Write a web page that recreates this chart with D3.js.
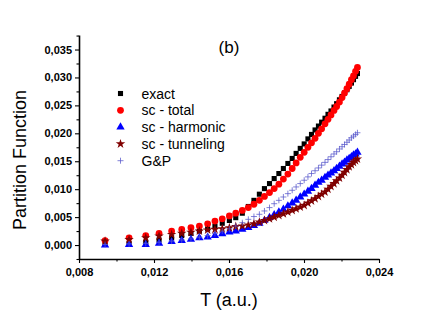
<!DOCTYPE html>
<html><head><meta charset="utf-8">
<script src="https://cdn.jsdelivr.net/npm/d3@7"></script>
<style>body{margin:0;background:#fff}svg{display:block}</style>
</head><body><div id="c"></div>
<script>
const temps = [0.00939,0.01067,0.01156,0.01227,0.01294,0.01348,0.01397,0.01442,0.01486,0.01525,0.01564,0.01602,0.01636,0.01671,0.01703,0.01733,0.01762,0.01789,0.01816,0.01841,0.01866,0.01890,0.01914,0.01937,0.01958,0.01980,0.02001,0.02021,0.02040,0.02059,0.02077,0.02094,0.02112,0.02128,0.02144,0.02160,0.02174,0.02189,0.02203,0.02216,0.02229,0.02241,0.02253,0.02264,0.02275,0.02285];
const exact = [0.0002,0.0003,0.0005,0.0009,0.0013,0.0017,0.0021,0.0025,0.0029,0.0034,0.0039,0.0044,0.0049,0.0057,0.0069,0.0080,0.0091,0.0101,0.0110,0.0119,0.0128,0.0137,0.0146,0.0155,0.0164,0.0173,0.0181,0.0190,0.0198,0.0206,0.0213,0.0220,0.0227,0.0234,0.0240,0.0247,0.0253,0.0260,0.0266,0.0272,0.0278,0.0284,0.0290,0.0296,0.0302,0.0307];
const scTotal = [0.0008,0.0013,0.0017,0.0021,0.0025,0.0028,0.0031,0.0034,0.0038,0.0043,0.0047,0.0052,0.0057,0.0062,0.0067,0.0073,0.0080,0.0087,0.0094,0.0101,0.0109,0.0118,0.0127,0.0137,0.0147,0.0157,0.0166,0.0175,0.0183,0.0191,0.0200,0.0208,0.0217,0.0225,0.0233,0.0241,0.0248,0.0256,0.0264,0.0272,0.0280,0.0288,0.0296,0.0303,0.0311,0.0318];
const scHarmonic = [0.0000,0.0001,0.0001,0.0003,0.0006,0.0008,0.0010,0.0013,0.0014,0.0017,0.0020,0.0023,0.0025,0.0028,0.0031,0.0035,0.0039,0.0044,0.0049,0.0054,0.0059,0.0064,0.0070,0.0075,0.0080,0.0086,0.0091,0.0096,0.0101,0.0107,0.0112,0.0116,0.0121,0.0125,0.0129,0.0133,0.0137,0.0141,0.0145,0.0148,0.0152,0.0155,0.0158,0.0161,0.0163,0.0166];
const scTunneling = [0.0007,0.0010,0.0013,0.0016,0.0019,0.0021,0.0023,0.0025,0.0027,0.0028,0.0029,0.0031,0.0033,0.0034,0.0036,0.0038,0.0041,0.0044,0.0047,0.0050,0.0053,0.0056,0.0059,0.0062,0.0065,0.0068,0.0071,0.0075,0.0079,0.0083,0.0087,0.0091,0.0095,0.0100,0.0105,0.0110,0.0115,0.0120,0.0125,0.0130,0.0135,0.0140,0.0144,0.0148,0.0151,0.0154];
const gp = [0.0001,0.0002,0.0003,0.0005,0.0007,0.0009,0.0011,0.0014,0.0017,0.0021,0.0025,0.0029,0.0034,0.0040,0.0046,0.0051,0.0055,0.0061,0.0067,0.0074,0.0080,0.0086,0.0092,0.0098,0.0104,0.0110,0.0116,0.0122,0.0128,0.0133,0.0138,0.0143,0.0148,0.0153,0.0158,0.0163,0.0167,0.0172,0.0176,0.0180,0.0184,0.0188,0.0192,0.0195,0.0198,0.0201];
const seriesNames = ["exact","sc - total","sc - harmonic","sc - tunneling","G&P"];
const xTicks = [0.008,0.012,0.016,0.020,0.024];
const xMinor = [0.010,0.014,0.018,0.022];
const yTicks = [0.000,0.005,0.010,0.015,0.020,0.025,0.030,0.035];
const yMinor = [-0.0025,0.0025,0.0075,0.0125,0.0175,0.0225,0.0275,0.0325,0.0375];

const W=440,H=311;
const svg=d3.select("#c").append("svg").attr("width",W).attr("height",H);
svg.append("rect").attr("width",W).attr("height",H).attr("fill","#fff");
const x=d3.scaleLinear().domain([0.008,0.024]).range([79,379]);
const y=d3.scaleLinear().domain([-0.0025,0.0376]).range([259,35]);
const fmt=d=>d3.format(".3f")(d).replace(".",",");
const font="'Liberation Sans', Arial, sans-serif";

const styles=[
 {sym:d3.symbolSquare,size:26,fill:"#000",stroke:"none"},
 {sym:d3.symbolCircle,size:36,fill:"#ff0000",stroke:"none"},
 {sym:d3.symbolTriangle,size:30,fill:"#0000ff",stroke:"none"},
 {sym:d3.symbolStar,size:28,fill:"#800000",stroke:"none"},
 {sym:d3.symbolCross,size:0,fill:"none",stroke:"#5a5acc"}
];
const data=[exact,scTotal,scHarmonic,scTunneling,gp];

function drawMarker(g,i){
  const s=styles[i];
  if(i===4){
    g.append("path").attr("d","M-3,0H3M0,-3V3").attr("stroke",s.stroke).attr("stroke-width",0.9).attr("fill","none").attr("opacity",0.85);
  } else {
    g.append("path").attr("d",d3.symbol().type(s.sym).size(s.size)()).attr("fill",s.fill);
  }
}

// axes
const ax=svg.append("g").attr("transform","translate(0,259)");
ax.call(d3.axisBottom(x).tickValues(xTicks).tickSize(4).tickSizeOuter(0).tickPadding(3).tickFormat(fmt));
const axm=svg.append("g").attr("transform","translate(0,259)");
axm.call(d3.axisBottom(x).tickValues(xMinor).tickSize(2.5).tickSizeOuter(0).tickFormat(""));
axm.select(".domain").remove();
const ay=svg.append("g").attr("transform","translate(79,0)");
ay.call(d3.axisLeft(y).tickValues(yTicks).tickSize(4).tickSizeOuter(0).tickPadding(3).tickFormat(fmt));
const aym=svg.append("g").attr("transform","translate(79,0)");
aym.call(d3.axisLeft(y).tickValues(yMinor).tickSize(2.5).tickSizeOuter(0).tickFormat(""));
aym.select(".domain").remove();
svg.selectAll(".domain").attr("stroke","#000").attr("stroke-width",1.6);
svg.selectAll(".tick line").attr("stroke","#000").attr("stroke-width",1.1);
svg.selectAll(".tick text").attr("font-family",font).attr("font-weight","bold").attr("font-size",11).attr("fill","#000");
ax.selectAll(".tick text").attr("dy","0.9em");

// data
data.forEach((arr,i)=>{
  const g=svg.append("g");
  arr.forEach((v,j)=>{
    const m=g.append("g").attr("transform",`translate(${x(temps[j])},${y(v)})`);
    drawMarker(m,i);
  });
});

// legend
const lg=svg.append("g");
seriesNames.forEach((n,i)=>{
  const yy=93.5+i*16.8;
  const m=lg.append("g").attr("transform",`translate(120.5,${yy})`);
  drawMarker(m,i);
  lg.append("text").attr("x",141.5).attr("y",yy+5).text(n).attr("font-family",font).attr("font-size",14).attr("fill","#000");
});

svg.append("text").attr("x",229).attr("y",53).attr("text-anchor","middle").text("(b)").attr("font-family",font).attr("font-size",17);
svg.append("text").attr("x",229).attr("y",306).attr("text-anchor","middle").text("T (a.u.)").attr("font-family",font).attr("font-size",18);
svg.append("text").attr("transform","translate(26,160) rotate(-90)").attr("text-anchor","middle").text("Partition Function").attr("font-family",font).attr("font-size",18);
</script></body></html>
